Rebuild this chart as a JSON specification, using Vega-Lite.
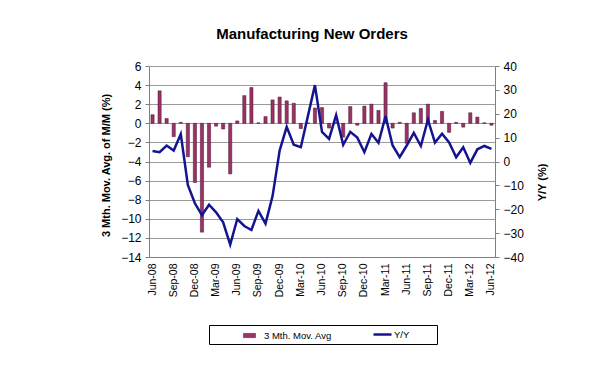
{
  "$schema": "https://vega.github.io/schema/vega-lite/v6.json",
  "autosize": {"type": "none"},
  "width": 346,
  "height": 191,
  "padding": {"left": 149, "top": 66, "right": 116, "bottom": 108},
  "background": "white",
  "config": {
    "view": {"stroke": null},
    "font": "Liberation Sans",
    "axis": {"labelFont": "Liberation Sans", "titleFont": "Liberation Sans", "labelColor": "#000", "titleColor": "#000"},
    "legend": {"labelFont": "Liberation Sans", "labelColor": "#000", "labelFontSize": 9.5, "title": null}
  },
  "title": {"text": "Manufacturing New Orders", "fontSize": 15, "fontWeight": "bold", "font": "Liberation Sans", "color": "#000", "offset": 18, "dx": -10},
  "data": {"values": [
    {"m": "Jun-08", "mma": 0.9, "yy": 4.4},
    {"m": "Jul-08", "mma": 3.4, "yy": 3.9},
    {"m": "Aug-08", "mma": 0.5, "yy": 6.7},
    {"m": "Sep-08", "mma": -1.4, "yy": 4.6},
    {"m": "Oct-08", "mma": 0.1, "yy": 11.5},
    {"m": "Nov-08", "mma": -3.5, "yy": -9.8},
    {"m": "Dec-08", "mma": -6.2, "yy": -17.5},
    {"m": "Jan-09", "mma": -11.4, "yy": -22.5},
    {"m": "Feb-09", "mma": -4.6, "yy": -18.1},
    {"m": "Mar-09", "mma": -0.3, "yy": -21.3},
    {"m": "Apr-09", "mma": -0.6, "yy": -25.5},
    {"m": "May-09", "mma": -5.3, "yy": -34.8},
    {"m": "Jun-09", "mma": 0.25, "yy": -24.1},
    {"m": "Jul-09", "mma": 2.9, "yy": -27.0},
    {"m": "Aug-09", "mma": 3.75, "yy": -28.7},
    {"m": "Sep-09", "mma": 0.05, "yy": -20.7},
    {"m": "Oct-09", "mma": 0.7, "yy": -26.0},
    {"m": "Nov-09", "mma": 2.45, "yy": -14.5},
    {"m": "Dec-09", "mma": 2.75, "yy": 4.6},
    {"m": "Jan-10", "mma": 2.35, "yy": 14.5},
    {"m": "Feb-10", "mma": 2.1, "yy": 7.0},
    {"m": "Mar-10", "mma": -0.55, "yy": 6.0},
    {"m": "Apr-10", "mma": 0.05, "yy": 19.0},
    {"m": "May-10", "mma": 1.6, "yy": 32.0},
    {"m": "Jun-10", "mma": 1.65, "yy": 12.4},
    {"m": "Jul-10", "mma": -0.5, "yy": 9.5},
    {"m": "Aug-10", "mma": 0.1, "yy": 19.4},
    {"m": "Sep-10", "mma": -1.45, "yy": 7.0},
    {"m": "Oct-10", "mma": 1.75, "yy": 12.4},
    {"m": "Nov-10", "mma": -0.2, "yy": 10.0},
    {"m": "Dec-10", "mma": 1.8, "yy": 3.9},
    {"m": "Jan-11", "mma": 2.0, "yy": 11.5},
    {"m": "Feb-11", "mma": 1.35, "yy": 7.8},
    {"m": "Mar-11", "mma": 4.25, "yy": 19.0},
    {"m": "Apr-11", "mma": -0.5, "yy": 6.7},
    {"m": "May-11", "mma": 0.1, "yy": 1.8},
    {"m": "Jun-11", "mma": -2.1, "yy": 6.7},
    {"m": "Jul-11", "mma": 1.1, "yy": 12.0},
    {"m": "Aug-11", "mma": 1.55, "yy": 6.5},
    {"m": "Sep-11", "mma": 2.0, "yy": 17.5},
    {"m": "Oct-11", "mma": 0.3, "yy": 7.9},
    {"m": "Nov-11", "mma": 1.25, "yy": 11.6},
    {"m": "Dec-11", "mma": -0.95, "yy": 8.0},
    {"m": "Jan-12", "mma": 0.1, "yy": 1.8},
    {"m": "Feb-12", "mma": -0.4, "yy": 6.0},
    {"m": "Mar-12", "mma": 1.1, "yy": -0.6},
    {"m": "Apr-12", "mma": 0.65, "yy": 5.1},
    {"m": "May-12", "mma": 0.05, "yy": 6.5},
    {"m": "Jun-12", "mma": -0.2, "yy": 5.3}
  ]},
  "encoding": {
    "x": {
      "field": "m", "type": "ordinal", "sort": null,
      "scale": {"paddingInner": 0.55, "paddingOuter": 0.275},
      "axis": {
        "title": null,
        "values": ["Jun-08","Sep-08","Dec-08","Mar-09","Jun-09","Sep-09","Dec-09","Mar-10","Jun-10","Sep-10","Dec-10","Mar-11","Jun-11","Sep-11","Dec-11","Mar-12","Jun-12"],
        "labelAngle": -90, "labelAlign": "right", "labelBaseline": "middle",
        "labelFontSize": 10.5, "labelPadding": 6, "ticks": false,
        "domainColor": "#808080", "grid": false
      }
    }
  },
  "layer": [
    {
      "mark": {"type": "bar", "stroke": "#4a1030", "strokeWidth": 0.5},
      "encoding": {
        "y": {
          "field": "mma", "type": "quantitative",
          "scale": {"domain": [-14, 6], "nice": false, "zero": false},
          "axis": {
            "orient": "left",
            "title": "3 Mth. Mov. Avg. of M/M (%)",
            "titleFontSize": 11, "titleFontWeight": "bold",
            "titleAngle": 270, "titleAlign": "center", "titleBaseline": "middle",
            "titleX": -43, "titleY": 99,
            "values": [-14, -12, -10, -8, -6, -4, -2, 0, 2, 4, 6],
            "labelFontSize": 12, "labelPadding": 4, "tickSize": 4,
            "tickColor": "#808080", "domainColor": "#808080",
            "grid": true, "gridColor": "#9a9a9a", "gridWidth": 1
          }
        },
        "fill": {
          "datum": "3 Mth. Mov. Avg",
          "type": "nominal",
          "scale": {"range": ["#993366"]},
          "legend": {
            "title": null,
            "orient": "none",
            "legendX": 60,
            "legendY": 259,
            "direction": "horizontal",
            "strokeColor": "#000",
            "fillColor": "white",
            "padding": 4,
            "symbolOffset": 30,
            "labelOffset": 8,
            "labelLimit": 400,
            "symbolType": "M-1,-0.35L1,-0.35L1,0.35L-1,0.35Z",
            "symbolSize": 144,
            "symbolStrokeColor": "#4a1030",
            "symbolStrokeWidth": 0.5,
            "labelExpr": "datum.label + '                                      \u200b'"
          }
        }
      }
    },
    {
      "mark": {"type": "line", "strokeWidth": 2.5, "color": "#141490"},
      "encoding": {
        "y": {
          "field": "yy", "type": "quantitative",
          "scale": {"domain": [-40, 40], "nice": false, "zero": false},
          "axis": {
            "orient": "right",
            "title": "Y/Y (%)",
            "titleFontSize": 11, "titleFontWeight": "bold",
            "titleAngle": 270, "titleAlign": "center", "titleBaseline": "middle",
            "titleX": 47, "titleY": 116,
            "values": [-40, -30, -20, -10, 0, 10, 20, 30, 40],
            "labelFontSize": 12, "labelPadding": 4, "tickSize": 4,
            "tickColor": "#808080", "domainColor": "#808080",
            "grid": false
          }
        },
        "stroke": {
          "datum": "Y/Y",
          "type": "nominal",
          "scale": {"range": ["#141490"]},
          "legend": {
            "title": null,
            "orient": "none",
            "legendX": 223,
            "legendY": 258,
            "direction": "horizontal",
            "padding": 0,
            "labelOffset": 1,
            "symbolType": "stroke",
            "symbolSize": 324,
            "symbolStrokeWidth": 2.5
          }
        }
      }
    }
  ],
  "resolve": {"scale": {"y": "independent"}, "axis": {"y": "independent"}}
}
